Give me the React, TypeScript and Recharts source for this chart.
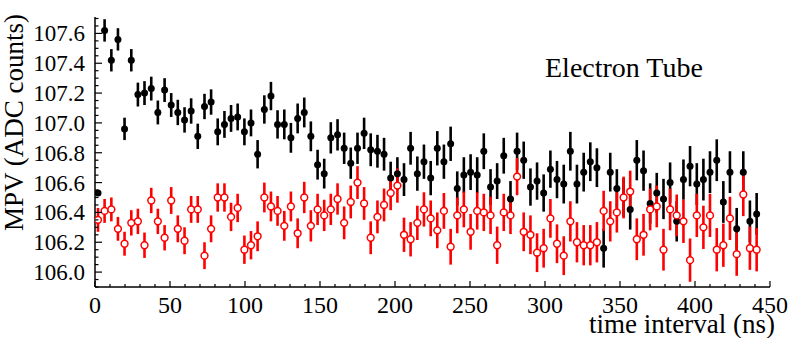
import { ScatterChart, Scatter, XAxis, YAxis, ErrorBar } from 'recharts';

// bin centres of the time interval (ns)
const times = [
  2.0, 6.4, 10.9, 15.3, 19.7, 24.2, 28.6, 33.0, 37.5, 41.9,
  46.4, 50.8, 55.2, 59.7, 64.1, 68.5, 73.0, 77.4, 81.8, 86.3,
  90.7, 95.1, 99.6, 104.0, 108.4, 112.9, 117.3, 121.7, 126.2, 130.6,
  135.1, 139.5, 143.9, 148.4, 152.8, 157.2, 161.7, 166.1, 170.5, 175.0,
  179.4, 183.8, 188.3, 192.7, 197.1, 201.6, 206.0, 210.4, 214.9, 219.3,
  223.8, 228.2, 232.6, 237.1, 241.5, 245.9, 250.4, 254.8, 259.2, 263.7,
  268.1, 272.5, 277.0, 281.4, 285.8, 290.3, 294.7, 299.1, 303.6, 308.0,
  312.5, 316.9, 321.3, 325.8, 330.2, 334.6, 339.1, 343.5, 347.9, 352.4,
  356.8, 361.2, 365.7, 370.1, 374.5, 379.0, 383.4, 387.8, 392.3, 396.7,
  401.2, 405.6, 410.0, 414.5, 418.9, 423.3, 427.8, 432.2, 436.6, 441.1,
];

// black filled points
const blackMpv = [
  106.53, 107.62, 107.42, 107.56, 106.96, 107.42, 107.19, 107.20, 107.23, 107.07,
  107.22, 107.12, 107.07, 107.02, 107.08, 106.91, 107.11, 107.14, 106.94, 106.99,
  107.03, 107.04, 106.94, 107.00, 106.79, 107.09, 107.18, 106.99, 106.99, 106.90,
  107.03, 107.07, 106.91, 106.72, 106.66, 106.90, 106.92, 106.83, 106.73, 106.83,
  106.93, 106.82, 106.81, 106.79, 106.63, 106.66, 106.62, 106.83, 106.66, 106.74,
  106.63, 106.83, 106.74, 106.86, 106.56, 106.65, 106.67, 106.65, 106.81, 106.57,
  106.61, 106.78, 106.49, 106.81, 106.75, 106.57, 106.61, 106.53, 106.69, 106.62,
  106.59, 106.81, 106.59, 106.67, 106.74, 106.70, 106.16, 106.67, 106.56, 106.50,
  106.42, 106.75, 106.68, 106.46, 106.53, 106.49, 106.60, 106.34, 106.62, 106.71,
  106.59, 106.62, 106.67, 106.75, 106.47, 106.67, 106.29, 106.67, 106.34, 106.39,
];
const blackErr = [
  0.01, 0.075, 0.075, 0.075, 0.075, 0.075, 0.08, 0.08, 0.08, 0.08,
  0.08, 0.08, 0.085, 0.085, 0.085, 0.085, 0.085, 0.085, 0.09, 0.09,
  0.09, 0.09, 0.09, 0.09, 0.095, 0.095, 0.095, 0.095, 0.1, 0.1,
  0.1, 0.1, 0.1, 0.1, 0.1, 0.105, 0.105, 0.105, 0.105, 0.105,
  0.105, 0.11, 0.11, 0.11, 0.11, 0.11, 0.11, 0.11, 0.115, 0.115,
  0.115, 0.115, 0.115, 0.115, 0.115, 0.12, 0.12, 0.12, 0.12, 0.12,
  0.12, 0.12, 0.12, 0.125, 0.125, 0.125, 0.125, 0.125, 0.125, 0.125,
  0.13, 0.13, 0.13, 0.13, 0.13, 0.13, 0.13, 0.13, 0.13, 0.13,
  0.135, 0.135, 0.135, 0.135, 0.135, 0.135, 0.135, 0.135, 0.135, 0.135,
  0.14, 0.14, 0.14, 0.14, 0.14, 0.14, 0.14, 0.14, 0.14, 0.14,
];

// red open points
const redMpv = [
  106.35, 106.41, 106.42, 106.29, 106.19, 106.33, 106.34, 106.18, 106.48, 106.34,
  106.23, 106.48, 106.29, 106.21, 106.42, 106.42, 106.11, 106.29, 106.50, 106.50,
  106.37, 106.43, 106.15, 106.18, 106.24, 106.50, 106.44, 106.41, 106.31, 106.44,
  106.26, 106.50, 106.31, 106.42, 106.38, 106.42, 106.49, 106.33, 106.47, 106.60,
  106.46, 106.23, 106.37, 106.45, 106.53, 106.58, 106.25, 106.22, 106.33, 106.42,
  106.36, 106.28, 106.41, 106.17, 106.38, 106.42, 106.27, 106.41, 106.40, 106.38,
  106.18, 106.40, 106.38, 106.64, 106.27, 106.25, 106.13, 106.16, 106.36, 106.19,
  106.11, 106.34, 106.20, 106.18, 106.18, 106.20, 106.41, 106.34, 106.40, 106.50,
  106.54, 106.22, 106.25, 106.42, 106.44, 106.15, 106.42, 106.38, 106.34, 106.08,
  106.38, 106.30, 106.38, 106.15, 106.18, 106.36, 106.12, 106.52, 106.16, 106.15,
];
const redErr = [
  0.08, 0.08, 0.08, 0.08, 0.08, 0.085, 0.085, 0.085, 0.085, 0.085,
  0.085, 0.09, 0.09, 0.09, 0.09, 0.09, 0.09, 0.09, 0.095, 0.095,
  0.095, 0.095, 0.095, 0.095, 0.1, 0.1, 0.1, 0.1, 0.1, 0.1,
  0.1, 0.105, 0.105, 0.105, 0.105, 0.105, 0.105, 0.11, 0.11, 0.11,
  0.11, 0.11, 0.11, 0.11, 0.115, 0.115, 0.115, 0.115, 0.115, 0.115,
  0.12, 0.12, 0.12, 0.12, 0.12, 0.12, 0.12, 0.125, 0.125, 0.125,
  0.125, 0.125, 0.125, 0.125, 0.13, 0.13, 0.13, 0.13, 0.13, 0.13,
  0.13, 0.135, 0.135, 0.135, 0.135, 0.135, 0.135, 0.135, 0.135, 0.14,
  0.14, 0.14, 0.14, 0.14, 0.14, 0.14, 0.14, 0.14, 0.145, 0.145,
  0.145, 0.145, 0.145, 0.145, 0.145, 0.145, 0.145, 0.145, 0.145, 0.145,
];

const xTicks = [
  0, 10, 20, 30, 40, 50, 60, 70, 80, 90, 100, 110, 120, 130, 140, 150, 160, 170, 180, 190,
  200, 210, 220, 230, 240, 250, 260, 270, 280, 290, 300, 310, 320, 330, 340, 350, 360, 370,
  380, 390, 400, 410, 420, 430, 440, 450,
];
const xLabels = [0, 50, 100, 150, 200, 250, 300, 350, 400, 450];

const yTicks = [
  105.9, 105.95, 106.0, 106.05, 106.1, 106.15, 106.2, 106.25, 106.3, 106.35, 106.4, 106.45,
  106.5, 106.55, 106.6, 106.65, 106.7, 106.75, 106.8, 106.85, 106.9, 106.95, 107.0, 107.05,
  107.1, 107.15, 107.2, 107.25, 107.3, 107.35, 107.4, 107.45, 107.5, 107.55, 107.6, 107.65, 107.7,
];
const yLabels = [106.0, 106.2, 106.4, 106.6, 106.8, 107.0, 107.2, 107.4, 107.6];

const FONT = '"Liberation Serif", "Times New Roman", serif';

const blackData = times.map((t, i) => ({ t, v: blackMpv[i], e: blackErr[i] }));
const redData = times.map((t, i) => ({ t, v: redMpv[i], e: redErr[i] }));

// ROOT-style ticks: pointing into the frame, labels only on the majors
function XTick(props: any) {
  const { x, y, payload } = props;
  const major = xLabels.includes(payload.value);
  return (
    <g>
      <line x1={x} y1={y} x2={x} y2={y - (major ? 6 : 3)} stroke="#000" strokeWidth={1.2} />
      {major && (
        <text x={x} y={y + 26} textAnchor="middle" fontFamily={FONT} fontSize={24} fill="#000">
          {payload.value}
        </text>
      )}
    </g>
  );
}

function YTick(props: any) {
  const { x, y, payload } = props;
  const major = yLabels.some((l) => Math.abs(l - payload.value) < 1e-6);
  return (
    <g>
      <line x1={x} y1={y} x2={x + (major ? 7 : 3.5)} y2={y} stroke="#000" strokeWidth={1.2} />
      {major && (
        <text x={x - 10} y={y + 8} textAnchor="end" fontFamily={FONT} fontSize={23} fill="#000">
          {payload.value.toFixed(1)}
        </text>
      )}
    </g>
  );
}

const BlackDot = (p: any) => <circle cx={p.cx} cy={p.cy} r={3.5} fill="#000" />;
const RedDot = (p: any) => (
  <circle cx={p.cx} cy={p.cy} r={3.4} fill="#fff" stroke="#ff0000" strokeWidth={1.5} />
);

export default function App() {
  return (
    <div style={{ position: 'absolute', left: 0, top: 0, width: 789, height: 338, background: '#fff' }}>
      <ScatterChart width={789} height={338} margin={{ top: 17, right: 19, bottom: 0, left: 0 }}>
        <XAxis
          type="number"
          dataKey="t"
          domain={[0, 450]}
          ticks={xTicks}
          interval={0}
          height={51}
          tickSize={0}
          tickMargin={0}
          tickLine={false}
          tick={XTick}
          axisLine={{ stroke: '#000', strokeWidth: 1.5 }}
          allowDataOverflow
        />
        <YAxis
          type="number"
          dataKey="v"
          domain={[105.9, 107.71]}
          ticks={yTicks}
          interval={0}
          width={95}
          tickSize={0}
          tickMargin={0}
          tickLine={false}
          tick={YTick}
          axisLine={{ stroke: '#000', strokeWidth: 1.5 }}
          allowDataOverflow
        />
        <Scatter data={blackData} shape={BlackDot} isAnimationActive={false}>
          <ErrorBar dataKey="e" direction="y" width={0} stroke="#000" strokeWidth={2.6} isAnimationActive={false} />
        </Scatter>
        <Scatter data={redData} shape={RedDot} isAnimationActive={false}>
          <ErrorBar dataKey="e" direction="y" width={0} stroke="#ff0000" strokeWidth={2.6} isAnimationActive={false} />
        </Scatter>
      </ScatterChart>
      <svg width={789} height={338} style={{ position: 'absolute', left: 0, top: 0, pointerEvents: 'none' }}>
        <text x={545} y={77} fontFamily={FONT} fontSize={28} fill="#000">Electron Tube</text>
        <text x={775} y={333} textAnchor="end" fontFamily={FONT} fontSize={27} fill="#000">time interval (ns)</text>
        <text x={0} y={0} transform="translate(23,14) rotate(-90)" textAnchor="end" fontFamily={FONT} fontSize={27} fill="#000">
          MPV (ADC counts)
        </text>
      </svg>
    </div>
  );
}
